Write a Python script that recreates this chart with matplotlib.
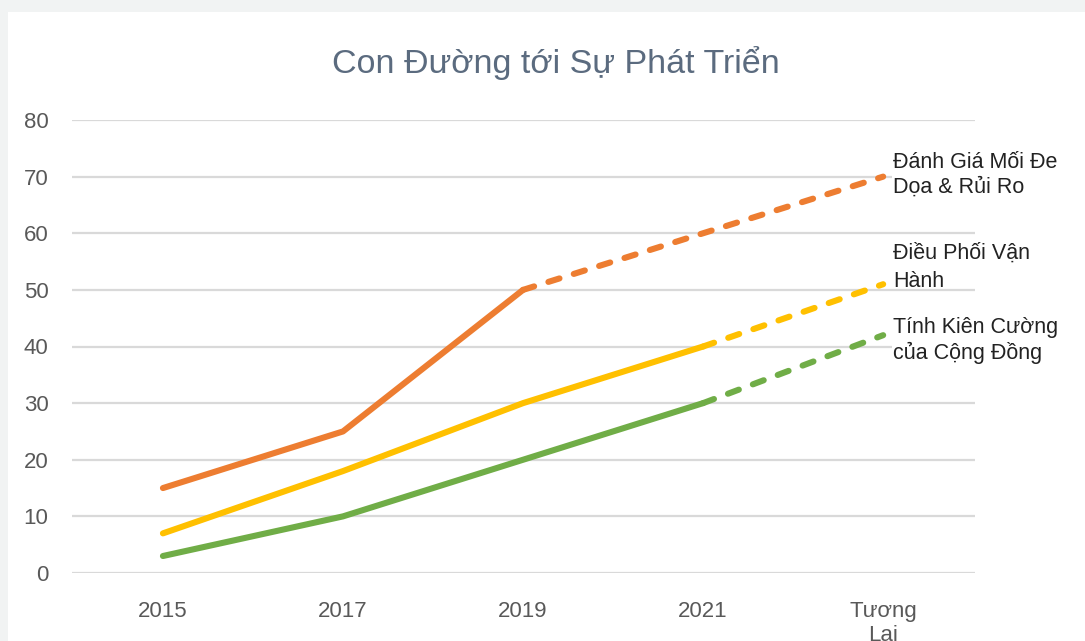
import matplotlib.pyplot as plt
from matplotlib.patches import Rectangle

plt.rcParams['font.family'] = ['Liberation Sans', 'DejaVu Sans']

periods = ['2015', '2017', '2019', '2021', 'Tương\nLai']
threat = [15, 25, 50, 60, 70]
operations = [7, 18, 30, 40, 51]
resilience = [3, 10, 20, 30, 42]

# index where the solid part ends and the projection starts
threat_split = 2
ops_split = 3
res_split = 3

series = [
    (threat, threat_split, '#ED7D31', 'Đánh Giá Mối Đe\nDọa & Rủi Ro', 70.3, 1.2, True),
    (operations, ops_split, '#FFC000', 'Điều Phối Vận\nHành', 54.0, 1.48, False),
    (resilience, res_split, '#70AD47', 'Tính Kiên Cường\ncủa Cộng Đồng', 41.1, 1.2, True),
]

fig = plt.figure(figsize=(10.85, 6.41), dpi=100)
fig.patch.set_facecolor('#f1f3f3')
fig.patches.append(Rectangle((8 / 1085, 0), 1, 1 - 12 / 641, transform=fig.transFigure,
                             facecolor='white', edgecolor='none', zorder=-10))

ax = fig.add_axes([72 / 1085, 1 - 573 / 641, 903 / 1085, 453 / 641])
ax.set_facecolor('none')
ax.set_zorder(2)

lw = 4.4
x = list(range(len(periods)))
for vals, split, color, label, ly, ls, box in series:
    ax.plot(x[:split + 1], vals[:split + 1], color=color, linewidth=lw,
            solid_capstyle='round', solid_joinstyle='round', zorder=3)
    ax.plot(x[split:], vals[split:], color=color, linewidth=lw, linestyle=(0, (1.9, 2.45)),
            dash_capstyle='round', zorder=3)
    bbox = dict(facecolor='white', edgecolor='none', pad=1) if box else None
    ax.text(4.055, ly, label, fontsize=15.5, color='#222222', ha='left', va='center',
            linespacing=ls, clip_on=False, bbox=bbox, zorder=4)

ax.set_xlim(-0.505, 4.51)
ax.set_ylim(0, 80)
ax.set_yticks(range(0, 81, 10))
ax.set_xticks(x)
ax.set_xticklabels(periods, linespacing=1.2)
ax.grid(axis='y', color='#d9d9d9', linewidth=1.6)
ax.set_axisbelow(True)
for s in ax.spines.values():
    s.set_visible(False)
ax.tick_params(axis='both', length=0, labelsize=16, labelcolor='#595959')
ax.tick_params(axis='y', pad=17)
ax.tick_params(axis='x', pad=20)

fig.text(556 / 1085, 1 - 63 / 641, 'Con Đường tới Sự Phát Triển', fontsize=24.5,
         color='#5b6b7f', ha='center', va='center')

fig.savefig('out.png', dpi=100, facecolor=fig.get_facecolor())
